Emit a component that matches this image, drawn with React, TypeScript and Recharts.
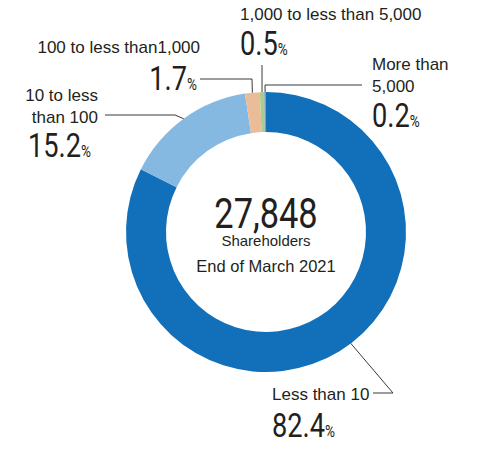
import React from 'react'
import { PieChart, Pie, Cell } from 'recharts'

const categories = ['Less than 10', '10 to less than 100', '100 to less than1,000', '1,000 to less than 5,000', 'More than 5,000']
const shares = [82.4, 15.2, 1.7, 0.5, 0.2]
const labelLines = [['Less than 10'], ['10 to less', 'than 100'], ['100 to less than1,000'], ['1,000 to less than 5,000'], ['More than', '5,000']]
const totalHolders = '27,848'
const centerCaption = ['Shareholders', 'End of March 2021']

const COLORS = ['#1170b9', '#86b9e2', '#e8bd98', '#a8cd8c', '#7f9db5']
const INK = '#231f20'
const SANS = '"Liberation Sans", Arial, sans-serif'
const SQUEEZE = 0.8 // condensed look for the big figures

const CX = 266
const CY = 232

// leader line / text placement for each slice, page coords
const LAYOUT = [
  { angleNudge: 5.6, path: [[393, 393], [373, 393]], textX: 272, anchor: 'start', textY: [400], pctX: 272, pctY: 437, pctAnchor: 'start' },
  { angleNudge: 0, path: [[175, 115], [105, 115]], textX: 98, anchor: 'end', textY: [101, 123], pctX: 28, pctY: 157, pctAnchor: 'start' },
  { angleNudge: 0, path: [[252, 79], [200, 79]], textX: 200, anchor: 'end', textY: [53], pctX: 197, pctY: 90, pctAnchor: 'end' },
  { angleNudge: 0, path: [[262, 65]], textX: 240, anchor: 'start', textY: [20], pctX: 240, pctY: 55, pctAnchor: 'start' },
  { angleNudge: 0, path: [[265, 85], [362, 85]], textX: 372, anchor: 'start', textY: [70, 92], pctX: 372, pctY: 127, pctAnchor: 'start' },
]

const data = categories.map((name, i) => ({ name, value: shares[i] }))

const RADIAN = Math.PI / 180

function BigText({ x, y, anchor, size, children }: any) {
  return (
    <g transform={`translate(${x},${y}) scale(${SQUEEZE},1)`}>
      <text x={0} y={0} textAnchor={anchor} fill={INK} fontFamily="Roboto, sans-serif">
        {children}
      </text>
    </g>
  )
}

function SliceLabel(props: any) {
  const { cx, cy, midAngle, outerRadius, index } = props
  const l = LAYOUT[index]
  const a = (midAngle + l.angleNudge) * RADIAN
  const sx = cx + outerRadius * Math.cos(a)
  const sy = cy - outerRadius * Math.sin(a)
  const pts = [[sx, sy], ...l.path].map((p) => p.join(',')).join(' ')
  return (
    <g>
      <polyline points={pts} fill="none" stroke="#3a3a3a" strokeWidth={1} />
      {labelLines[index].map((t, j) => (
        <text key={j} x={l.textX} y={l.textY[j]} textAnchor={l.anchor} fontFamily={SANS} fontSize={17} fill={INK}>
          {t}
        </text>
      ))}
      <BigText x={l.pctX} y={l.pctY} anchor={l.pctAnchor}>
        <tspan fontSize={34}>{shares[index].toFixed(1)}</tspan>
        <tspan fontSize={17}>%</tspan>
      </BigText>
    </g>
  )
}

export default function App() {
  return (
    <div style={{ position: 'absolute', left: 0, top: 0, width: 494, height: 450, background: '#fff' }}>
      <PieChart width={494} height={450} margin={{ top: 0, right: 0, bottom: 0, left: 0 }}>
        <Pie
          data={data}
          dataKey="value"
          nameKey="name"
          cx={CX}
          cy={CY}
          innerRadius={100}
          outerRadius={140}
          startAngle={90}
          endAngle={-270}
          stroke="none"
          label={SliceLabel}
          labelLine={false}
          isAnimationActive={false}
        >
          {data.map((d, i) => (
            <Cell key={d.name} fill={COLORS[i]} />
          ))}
        </Pie>
        <BigText x={CX} y={228} anchor="middle">
          <tspan fontSize={43}>{totalHolders}</tspan>
        </BigText>
        <text x={CX} y={246} textAnchor="middle" fontFamily={SANS} fontSize={15} fill={INK}>
          {centerCaption[0]}
        </text>
        <text x={CX} y={272} textAnchor="middle" fontFamily={SANS} fontSize={16.5} fill={INK}>
          {centerCaption[1]}
        </text>
      </PieChart>
    </div>
  )
}
